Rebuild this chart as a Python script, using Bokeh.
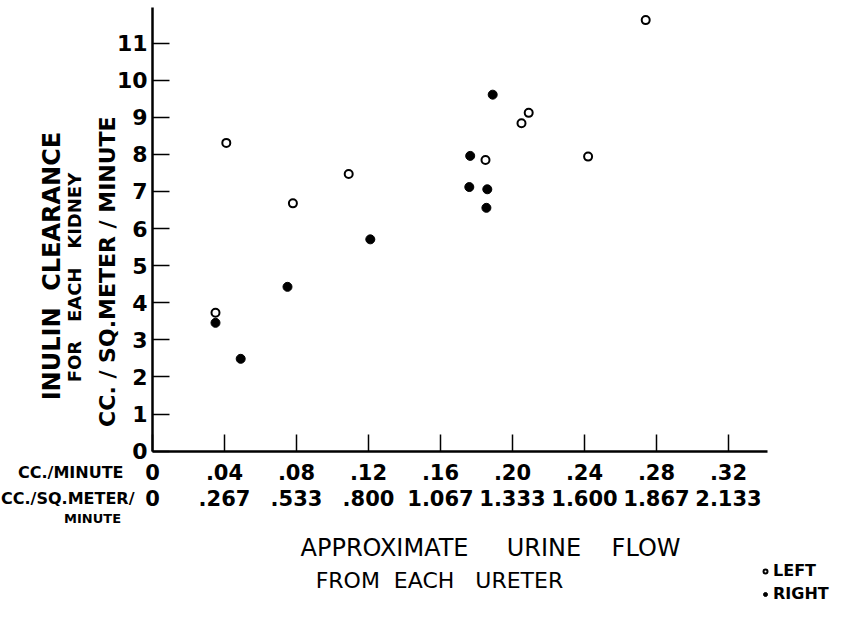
import math
from bokeh.plotting import figure
from bokeh.models import (LinearAxis, FixedTicker, Label, Legend, LegendItem, Range1d)
from bokeh.embed import file_html
from bokeh.resources import INLINE

# ---- data ----
left_flow = [0.041, 0.109, 0.078, 0.035, 0.274, 0.209, 0.205, 0.185, 0.242]
left_clear = [8.31, 7.47, 6.68, 3.73, 11.62, 9.12, 8.84, 7.85, 7.94]
right_flow = [0.075, 0.035, 0.049, 0.189, 0.1765, 0.176, 0.186, 0.1855, 0.121]
right_clear = [4.43, 3.46, 2.49, 9.61, 7.96, 7.12, 7.06, 6.56, 5.71]

x_ticks = [0, 0.04, 0.08, 0.12, 0.16, 0.20, 0.24, 0.28, 0.32]
x_labels_cc = ["0", ".04", ".08", ".12", ".16", ".20", ".24", ".28", ".32"]
x_labels_sqm = ["0", ".267", ".533", ".800", "1.067", "1.333", "1.600", "1.867", "2.133"]
y_ticks = list(range(0, 12))
y_labels = [str(v) for v in y_ticks]

X_END = 0.3417
Y_END = 11.95
FONT = "DejaVu Sans"
NB = "\u00a0"

p = figure(width=832, height=603, output_backend="svg", toolbar_location=None,
           x_range=Range1d(-0.084444, 0.377778), y_range=Range1d(-4.1051, 12.1482),
           min_border_left=0, min_border_right=0, min_border_top=0,
           min_border_bottom=0, x_axis_location=None, y_axis_location=None)
p.outline_line_color = None
p.xgrid.visible = False
p.ygrid.visible = False
p.background_fill_color = "white"
p.border_fill_color = "white"

# y axis (drawn at x = 0)
yax = LinearAxis(ticker=FixedTicker(ticks=y_ticks), fixed_location=0,
                 bounds=(0, Y_END),
                 major_label_overrides={v: s for v, s in zip(y_ticks, y_labels)})
yax.axis_line_width = 2.5
yax.axis_line_color = "black"
yax.major_tick_in = 17
yax.major_tick_out = 0
yax.major_tick_line_width = 1.5
yax.minor_tick_line_color = None
yax.major_label_standoff = 5
yax.major_label_text_font = FONT
yax.major_label_text_font_style = "bold"
yax.major_label_text_font_size = "22px"
yax.major_label_text_color = "black"
p.add_layout(yax, "left")

# x axis row 1 (cc./minute), drawn at y = 0
xax = LinearAxis(ticker=FixedTicker(ticks=x_ticks), fixed_location=0,
                 bounds=(0, X_END),
                 major_label_overrides={v: s for v, s in zip(x_ticks, x_labels_cc)})
xax.axis_line_width = 2.5
xax.axis_line_color = "black"
xax.major_tick_in = 17
xax.major_tick_out = 0
xax.major_tick_line_width = 1.5
xax.minor_tick_line_color = None
xax.major_label_standoff = 13
xax.major_label_text_font = FONT
xax.major_label_text_font_style = "bold"
xax.major_label_text_font_size = "21px"
xax.major_label_text_color = "black"
p.add_layout(xax, "below")

# x axis row 2 (cc./sq.meter/minute)
xax2 = LinearAxis(ticker=FixedTicker(ticks=x_ticks), fixed_location=0,
                  bounds=(0, X_END),
                  major_label_overrides={v: s for v, s in zip(x_ticks, x_labels_sqm)})
xax2.axis_line_color = None
xax2.major_tick_line_color = None
xax2.minor_tick_line_color = None
xax2.major_label_standoff = 33
xax2.major_label_text_font = FONT
xax2.major_label_text_font_style = "bold"
xax2.major_label_text_font_size = "21px"
xax2.major_label_text_color = "black"
p.add_layout(xax2, "below")

# points
r_left = p.scatter(left_flow, left_clear, marker="circle", size=8,
                   fill_color="white", line_color="black", line_width=2)
r_right = p.scatter(right_flow, right_clear, marker="circle", size=9,
                    fill_color="black", line_color="black", line_width=1)


def lab(text, x, y, size, angle=0.0, align="center", style="bold"):
    p.add_layout(Label(x=x, y=y, text=text, angle=angle, text_align=align,
                       text_baseline="middle", text_font=FONT,
                       text_font_size=size, text_font_style=style,
                       text_color="black"))


# y axis titles
lab("INULIN" + NB * 2 + "CLEARANCE", -0.0556, 4.99, "24px", angle=math.pi / 2)
lab("FOR" + NB * 3 + "EACH" + NB * 3 + "KIDNEY", -0.0433, 4.68, "18px",
    angle=math.pi / 2)
lab("CC. / SQ.METER / MINUTE", -0.025, 4.84, "22px", angle=math.pi / 2)

# row captions
lab("CC./MINUTE", -0.0161, -0.57, "16px", align="right")
lab("CC./SQ.METER/", -0.0100, -1.27, "16px", align="right")
lab("MINUTE", -0.0333, -1.82, "13px")

# x title
lab("APPROXIMATE" + NB * 5 + "URINE" + NB * 4 + "FLOW", 0.1878, -2.62, "24px",
    style="normal")
lab("FROM" + NB * 2 + "EACH" + NB * 3 + "URETER", 0.1594, -3.49, "22px",
    style="normal")

legend = Legend(items=[LegendItem(label="LEFT", renderers=[r_left]),
                       LegendItem(label="RIGHT", renderers=[r_right])],
                location=(760, 0))
legend.border_line_color = None
legend.background_fill_alpha = 0
legend.padding = 0
legend.margin = 0
legend.spacing = 4
legend.label_height = 19
legend.glyph_height = 12
legend.glyph_width = 10
legend.label_standoff = 3
legend.label_text_font = FONT
legend.label_text_font_style = "bold"
legend.label_text_font_size = "16px"
legend.label_text_color = "black"
p.add_layout(legend, "center")

open("out.html", "w").write(file_html(p, INLINE))
